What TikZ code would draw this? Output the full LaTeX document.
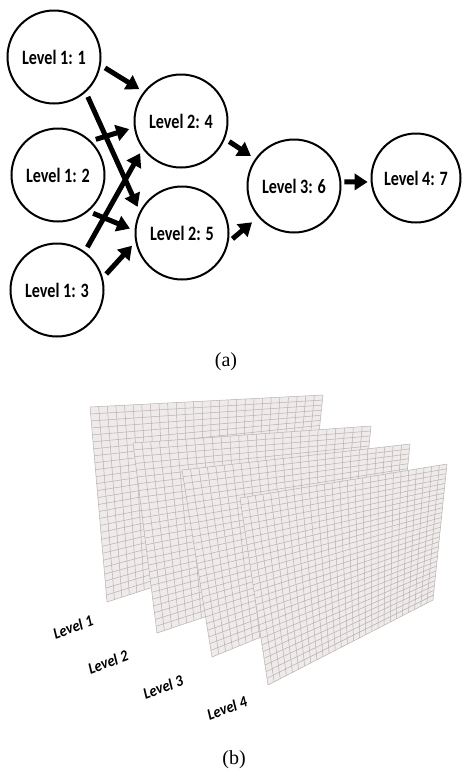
\documentclass[tikz,border=0pt]{standalone}
\usepackage{fontspec}
\setmainfont{Liberation Serif}
\newfontfamily\lblfont{Carlito}
\usetikzlibrary{arrows.meta,calc}

\definecolor{sheet}{HTML}{EFEBEA}
\definecolor{gridc}{HTML}{B8B2B0}

% one sheet of the stack: corners TL, TR, BR, BL; 27 columns, 28 rows
\newcommand\gridsheet[5]{%
  \coordinate (#1a) at #2;
  \coordinate (#1b) at #3;
  \coordinate (#1c) at #4;
  \coordinate (#1d) at #5;
  \fill[sheet] (#1a) -- (#1b) -- (#1c) -- (#1d) -- cycle;
  \foreach \i in {0,...,27}{
    \draw[gridline] ($(#1a)!\i/27!(#1b)$) -- ($(#1d)!\i/27!(#1c)$);
  }
  \foreach \j in {0,...,28}{
    \draw[gridline] ($(#1a)!\j/28!(#1d)$) -- ($(#1b)!\j/28!(#1c)$);
  }
}

\begin{document}
\begin{tikzpicture}[x=1pt,y=-1pt,
  lvl/.style={circle,draw,line width=2pt,minimum size=93pt,inner sep=0pt,
    font=\lblfont\bfseries\fontsize{17}{20}\selectfont},
  arr/.style={line width=5pt,-{Triangle[length=13pt,width=16pt]},
    shorten <=5pt,shorten >=5pt},
  gridline/.style={gridc,line width=0.5pt},
  layerlbl/.style={rotate=20,font=\lblfont\bfseries\itshape\fontsize{16}{18}\selectfont},
  caption/.style={font=\fontsize{20}{24}\selectfont}]

\useasboundingbox (0,0) rectangle (462,774);

% ---------- (a) graph of levels ----------
\node[lvl] (n11) at (54,57)   {\scalebox{0.95}[1.2]{Level 1: 1}};
\node[lvl] (n12) at (58,175)  {\scalebox{0.95}[1.2]{Level 1: 2}};
\node[lvl] (n13) at (57,290)  {\scalebox{0.95}[1.2]{Level 1: 3}};
\node[lvl] (n24) at (181,121) {\scalebox{0.95}[1.2]{Level 2: 4}};
\node[lvl] (n25) at (182,233) {\scalebox{0.95}[1.2]{Level 2: 5}};
\node[lvl] (n36) at (294,186) {\scalebox{0.95}[1.2]{Level 3: 6}};
\node[lvl,minimum size=89pt] (n47) at (416,178) {\scalebox{0.95}[1.2]{Level 4: 7}};

\draw[arr] (n11.-10) -- (n24.142);
\draw[arr] (n11.-48) -- (n25.153);
\draw[arr] (n12.46)  -- (n24.188);
\draw[arr] (n12.-50) -- (n25.177);
\draw[arr] (n13.54)  -- (n24.216);
\draw[arr] (n13.15)  -- (n25.191);
\draw[arr] (n24.-22) -- (n36.145);
\draw[arr,shorten >=8pt] (n25.-11) -- (n36.221);
\draw[arr,shorten <=3pt,shorten >=3pt] (n36.5) -- (n47.185);

\node[caption] (capa) at (226,362) {(a)};

% ---------- (b) stacked grids ----------
\gridsheet{pA}{(90,407)}{(323,395)}{(308,537)}{(107,602)}
\gridsheet{pB}{(133,443)}{(371,426)}{(357,566)}{(157,633)}
\gridsheet{pC}{(182,470)}{(410,444)}{(396,582)}{(212,657)}
\gridsheet{pD}{(240,498)}{(447,464)}{(433,600)}{(268,685)}

\node[layerlbl] (l1) at (73,627)  {\scalebox{0.9}[1]{Level 1}};
\node[layerlbl] (l2) at (108,662) {\scalebox{0.9}[1]{Level 2}};
\node[layerlbl] (l3) at (163,687) {\scalebox{0.9}[1]{Level 3}};
\node[layerlbl] (l4) at (227,708) {\scalebox{0.9}[1]{Level 4}};

\node[caption] (capb) at (234,760) {(b)};
\end{tikzpicture}
\end{document}
